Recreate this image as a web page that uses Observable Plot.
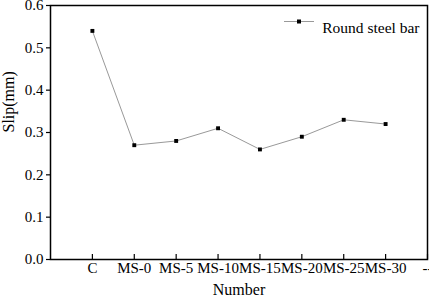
<!DOCTYPE html>
<html>
<head>
<meta charset="utf-8">
<script src="https://cdn.jsdelivr.net/npm/d3@7"></script>
<script src="https://cdn.jsdelivr.net/npm/@observablehq/plot@0.6"></script>
<style>
  html, body { margin: 0; padding: 0; background: white; }
</style>
</head>
<body>
<div id="chart"></div>
<script>
const categories = ["C", "MS-0", "MS-5", "MS-10", "MS-15", "MS-20", "MS-25", "MS-30"];
const slip = [0.54, 0.27, 0.28, 0.31, 0.26, 0.29, 0.33, 0.32];
const xTickLabels = ["C", "MS-0", "MS-5", "MS-10", "MS-15", "MS-20", "MS-25", "MS-30", "--"];
const yTicks = [0, 0.1, 0.2, 0.3, 0.4, 0.5, 0.6];
const seriesName = "Round steel bar";
const fontStack = "Liberation Serif";

const data = categories.map((c, i) => ({pos: i + 1, name: c, slip: slip[i]}));
const xTickPos = xTickLabels.map((_, i) => i + 1);

const plot = Plot.plot({
  width: 429,
  height: 299,
  marginLeft: 50,
  marginRight: 2,
  marginTop: 5,
  marginBottom: 40,
  style: {fontSize: "15px", background: "white", color: "black"},
  x: {domain: [0, xTickLabels.length], label: null},
  y: {domain: [0, 0.6], label: null},
  marks: [
    Plot.axisX({ticks: xTickPos, tickFormat: d => xTickLabels[d - 1], tickSize: -5, tickPadding: 8, stroke: "black", strokeWidth: 1.2, label: null, fontSize: 15}),
    Plot.axisY({ticks: yTicks, tickFormat: d3.format(".1f"), tickSize: 4, tickPadding: 3, strokeWidth: 1.2, label: null, fontSize: 15}),
    Plot.frame({stroke: "black", strokeWidth: 1.5}),
    Plot.line(data, {x: "pos", y: "slip", stroke: "#999999", strokeWidth: 1}),
    Plot.dot(data, {x: "pos", y: "slip", symbol: "square", r: 2.2, fill: "black", stroke: "none"}),
    Plot.text(["Number"], {frameAnchor: "bottom", dy: 35, fontSize: 16}),
    Plot.text(["Slip(mm)"], {frameAnchor: "left", dx: -42, rotate: -90, fontSize: 16}),
    Plot.text([seriesName], {frameAnchor: "top-right", dx: -8, dy: 16, textAnchor: "end", fontSize: 15.5})
  ]
});

d3.select(plot).attr("font-family", fontStack).style("font-family", fontStack);
d3.select(plot).selectAll("text").attr("font-family", fontStack).style("font-family", fontStack);

document.getElementById("chart").appendChild(plot);

// legend symbol (line + square marker) next to the legend text
const svg = d3.select(plot);
const g = svg.append("g");
g.append("line").attr("x1", 284).attr("x2", 314).attr("y1", 21.5).attr("y2", 21.5)
  .attr("stroke", "#999999").attr("stroke-width", 1);
g.append("rect").attr("x", 297).attr("y", 19.5).attr("width", 4).attr("height", 4).attr("fill", "black");
</script>
</body>
</html>
